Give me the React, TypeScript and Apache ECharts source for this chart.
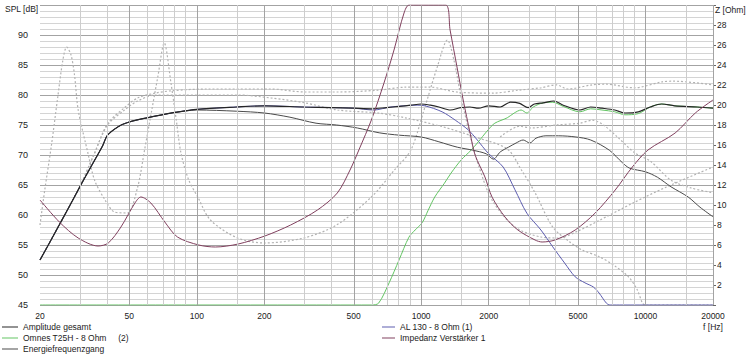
import React, { useEffect, useRef } from 'react';
import * as echarts from 'echarts';

const FONT = '"Liberation Sans", Arial, sans-serif';

// ---- axis ticks / grid frequencies (Hz) ----
const xLabelFreq = [20, 50, 100, 200, 500, 1000, 2000, 5000, 10000, 20000];
const xMajorGrid = [20, 50, 100, 200, 500, 1000, 2000, 5000, 10000, 20000];
const xMinorGrid = [30, 40, 60, 70, 80, 90, 150, 300, 400, 600, 700, 800, 900, 1500, 3000, 4000, 6000, 7000, 8000, 9000, 15000];

// ---- legend names ----
const NAME_AMP = 'Amplitude gesamt';
const NAME_OMNES = 'Omnes T25H - 8 Ohm     (2)';
const NAME_ENERGY = 'Energiefrequenzgang';
const NAME_AL = 'AL 130 - 8 Ohm (1)';
const NAME_IMP = 'Impedanz Verstärker 1';

// ---- Amplitude gesamt (dB) ----
const ampFreq = [20, 22, 25, 28, 30, 33, 35, 38, 40, 45, 50, 60, 70, 80, 100, 150, 200, 300, 400, 500, 600, 700, 800, 900, 1000, 1100, 1200, 1350, 1500, 1650, 1800, 2000, 2250, 2500, 2750, 3000, 3200, 3500, 3900, 4300, 5100, 5700, 6400, 7300, 8100, 9300, 10500, 11800, 13500, 17000, 20000];
const ampDb = [52.5, 55.3, 59.1, 62.5, 64.6, 67.4, 69.1, 71.5, 73.3, 74.8, 75.5, 76.2, 76.7, 77.1, 77.6, 78.0, 78.2, 78.0, 77.9, 77.8, 77.7, 77.9, 78.1, 78.3, 78.5, 78.3, 78.0, 77.5, 77.9, 78.0, 77.8, 78.2, 78.0, 78.8, 78.6, 77.9, 78.5, 78.7, 79.0, 78.3, 77.5, 78.0, 77.8, 77.5, 77.0, 77.2, 78.0, 78.5, 78.2, 78.0, 77.8];

// ---- Energiefrequenzgang (dB) ----
const energyFreq = [20, 22, 25, 28, 30, 33, 35, 38, 40, 45, 50, 60, 70, 80, 100, 150, 200, 260, 340, 420, 520, 650, 800, 1000, 1200, 1450, 1700, 1950, 2100, 2250, 2450, 2650, 2850, 3050, 3250, 3600, 4100, 4900, 5700, 6900, 7900, 8500, 10000, 11300, 13000, 15500, 17500, 20000];
const energyDb = [52.5, 55.3, 59.1, 62.5, 64.6, 67.4, 69.1, 71.5, 73.3, 74.8, 75.5, 76.2, 76.7, 77.1, 77.5, 77.3, 77.0, 76.3, 75.3, 75.0, 74.5, 73.7, 73.3, 73.0, 72.2, 71.3, 70.8, 70.2, 69.3, 70.5, 71.3, 72.0, 72.5, 72.0, 72.8, 73.2, 73.2, 73.0, 72.5, 70.8, 68.7, 67.8, 67.2, 66.3, 64.7, 63.0, 61.3, 59.7];

// ---- AL 130 - 8 Ohm (1) (dB) ----
const alFreq = [20, 22, 25, 28, 30, 33, 35, 38, 40, 45, 50, 60, 70, 80, 100, 150, 200, 300, 400, 500, 616, 730, 960, 1040, 1240, 1420, 1620, 1780, 1990, 2320, 2620, 2960, 3420, 3860, 4360, 4860, 5370, 5860, 6210, 6700, 6950, 20000];
const alDb = [52.5, 55.3, 59.1, 62.5, 64.6, 67.4, 69.1, 71.5, 73.3, 74.8, 75.5, 76.2, 76.7, 77.1, 77.6, 78.0, 78.2, 78.0, 77.9, 77.8, 77.5, 78.0, 78.3, 78.2, 77.2, 75.8, 74.2, 72.5, 70.3, 68.0, 64.2, 60.3, 57.5, 54.7, 52.0, 49.7, 48.7, 48.0, 47.0, 45.3, 45, 45];

// ---- Omnes T25H - 8 Ohm (2) (dB) ----
const omnesFreq = [20, 600, 646, 720, 797, 882, 940, 1010, 1075, 1150, 1270, 1360, 1510, 1670, 1780, 1990, 2130, 2420, 2600, 2790, 2960, 3160, 3500, 3860, 4300, 5100, 5700, 6400, 7300, 8100, 9300, 10500, 11800, 13500, 17000, 20000];
const omnesDb = [45, 45, 45.3, 48.7, 52.5, 56.3, 57.5, 58.7, 60.8, 63.0, 65.3, 67.0, 69.2, 70.8, 72.0, 74.2, 75.3, 76.2, 77.0, 77.5, 77.0, 78.0, 78.7, 78.8, 78.1, 77.2, 77.7, 77.5, 77.2, 76.7, 76.9, 78.0, 78.5, 78.2, 78.0, 77.8];

// ---- Impedanz Verstärker 1 (Ohm) ----
const impFreq = [20, 24.4, 29.6, 36.3, 40.3, 45.9, 53, 56.3, 62.4, 72, 82, 102, 121, 153, 201, 262, 345, 423, 482, 530, 600, 683, 757, 839, 885, 1285, 1346, 1445, 1540, 1653, 1740, 1925, 2070, 2365, 2700, 3220, 3460, 3950, 4860, 5970, 7330, 8740, 10260, 13560, 16680, 20000];
const impOhm = [10.5, 8.3, 6.7, 5.9, 6.2, 7.8, 10.2, 10.8, 10.2, 8.3, 6.8, 6.0, 5.8, 6.1, 6.9, 8.0, 9.5, 11.2, 13.5, 15.6, 18.5, 22.2, 25.5, 29.2, 30, 30, 27.5, 23.8, 20.5, 17.2, 15.0, 12.8, 10.8, 8.8, 7.5, 6.5, 6.3, 6.5, 7.5, 9.2, 11.5, 13.8, 15.5, 17.2, 19.2, 20.5];

// ---- dotted reference curves ----
const refZFreq = [20, 21, 22.5, 24, 25.3, 26.3, 27.5, 28.5, 29.6, 32.7, 35, 39, 43, 49, 54.5, 58.5, 63, 67, 71.6, 76.7, 81, 85, 92, 101, 115, 152, 200, 300, 420, 600, 760, 900, 1030, 1180, 1310, 1400, 1500, 1650, 1800, 2070, 2620, 3420, 4100, 5000, 6275, 8800, 12400, 20000];
const refZOhm = [8, 11.5, 16, 20.8, 24.5, 25.8, 25, 23, 19.5, 15.2, 12.5, 10.5, 9.3, 9.2, 11.8, 15.5, 19.5, 22.8, 26.2, 22.2, 18.5, 15.2, 12.5, 10.8, 8.5, 6.7, 6.2, 6.7, 8.0, 10.8, 13.5, 15.5, 19.5, 23.8, 26.5, 24.5, 21, 17, 14, 10.5, 7.8, 6.8, 6.7, 7.4, 8.5, 10.2, 11.8, 13.8];

const refAFreq = [20, 25, 30, 35, 40, 48, 54.5, 65, 77, 110, 214, 303, 424, 642, 850, 1100, 1440, 2080, 2710, 3420, 4000, 4500, 5800, 6700, 8900, 11900, 13400, 20000];
const refADb = [52.5, 59.1, 64.6, 70.3, 75.2, 78.0, 79.5, 80.3, 80.7, 81.0, 81.0, 80.5, 80.5, 80.8, 81.3, 81.3, 80.5, 80.3, 80.8, 81.2, 81.7, 81.0, 81.7, 81.8, 81.2, 82.2, 82.3, 81.7];

const refBFreq = [20, 25, 30, 35, 40, 48, 54.5, 65, 101, 153, 214, 303, 424, 642, 850, 1250, 1740, 2420, 2800, 3220, 3860, 4600, 5200, 6270, 7300, 8400, 9200, 9700, 10000, 20000];
const refBDb = [52.5, 59.1, 64.6, 70.3, 75.0, 77.6, 79.0, 80.0, 80.0, 80.0, 79.5, 78.7, 77.5, 77.0, 76.2, 74.7, 73.0, 71.0, 67.5, 63.7, 58.0, 55.5, 54.2, 53.0, 51.5, 49.7, 47.5, 45.3, 45, 45];

const refCFreq = [2250, 2750, 3100, 4000, 5100, 5800, 6500, 7500, 9000, 10500, 13000, 16000, 20000];
const refCDb = [73.0, 74.8, 74.5, 75.0, 75.3, 75.8, 75.0, 73.0, 70.3, 69.0, 65.8, 64.5, 63.7];

const pairs = (f: number[], v: number[]) => f.map((x, i) => [Math.log10(x), v[i]]);

const solid = (name: string, data: number[][], color: string, width: number, yAxisIndex = 0) => ({
  type: 'line',
  name,
  data: data,
  yAxisIndex,
  symbol: 'none',
  showSymbol: false,
  smooth: 0.3,
  silent: true,
  z: 4,
  lineStyle: { color, width },
  itemStyle: { color },
});

const dotted = (data: number[][], yAxisIndex = 0) => ({
  type: 'line',
  data,
  yAxisIndex,
  symbol: 'none',
  showSymbol: false,
  smooth: 0.3,
  silent: true,
  z: 3,
  lineStyle: { color: '#b2b2b2', width: 1.2, type: [2, 2] },
  itemStyle: { color: '#b2b2b2' },
});

const gridSeries = (freqs: number[], color: string) => ({
  type: 'line',
  data: [],
  silent: true,
  z: 1,
  markLine: {
    silent: true,
    symbol: 'none',
    animation: false,
    label: { show: false },
    lineStyle: { color, width: 1, type: 'solid' },
    emphasis: { disabled: true },
    data: freqs.map((f) => ({ xAxis: Math.log10(f) })),
  },
});

const legendText = { fontSize: 8.5, color: '#222', fontFamily: FONT, lineHeight: 10 };

export default function App() {
  const ref = useRef<HTMLDivElement>(null);
  useEffect(() => {
    document.body.style.margin = '0';
    const chart = echarts.init(ref.current!, null, { renderer: 'svg' });
    chart.setOption({
      animation: false,
      backgroundColor: '#ffffff',
      textStyle: { fontFamily: FONT },
      grid: { left: 40, right: 37, top: 5, bottom: 51, show: false },
      xAxis: {
        type: 'value',
        min: Math.log10(20),
        max: Math.log10(20000),
        axisLine: { show: false },
        axisTick: { show: false },
        splitLine: { show: false },
        axisLabel: {
          customValues: xLabelFreq.map((f) => Math.log10(f)),
          formatter: (v: number) => {
            const f = Math.round(Math.pow(10, v));
            return f === 20000 ? '20000\nf [Hz]' : String(f);
          },
          fontSize: 8.5,
          color: '#222',
          margin: 5,
          lineHeight: 11,
          fontFamily: FONT,
        },
      },
      yAxis: [
        {
          type: 'value',
          min: 45,
          max: 95,
          interval: 5,
          position: 'left',
          axisLine: { show: false },
          axisTick: { show: false },
          axisLabel: {
            formatter: (v: number) => (v === 95 ? '' : String(v)),
            fontSize: 9,
            color: '#222',
            margin: 12,
            fontFamily: FONT,
          },
          splitLine: { show: true, lineStyle: { color: '#a3a3a3', width: 1 } },
          minorTick: { show: false, splitNumber: 5 },
          minorSplitLine: { show: true, lineStyle: { color: '#d4d4d4', width: 1 } },
        },
        {
          type: 'value',
          min: 0,
          max: 30,
          interval: 2,
          position: 'right',
          axisLine: { show: false },
          axisTick: { show: true, length: 3, lineStyle: { color: '#666' } },
          axisLabel: {
            formatter: (v: number) => (v === 0 || v === 30 ? '' : String(v)),
            fontSize: 8.5,
            color: '#222',
            margin: 4,
            fontFamily: FONT,
          },
          splitLine: { show: false },
        },
      ],
      legend: [
        {
          data: [NAME_AMP, NAME_OMNES, NAME_ENERGY],
          left: 2,
          top: 322,
          orient: 'vertical',
          icon: 'rect',
          itemWidth: 16,
          itemHeight: 1,
          itemGap: 1,
          padding: 0,
          selectedMode: false,
          textStyle: legendText,
        },
        {
          data: [NAME_AL, NAME_IMP],
          left: 382,
          top: 322,
          orient: 'vertical',
          icon: 'rect',
          itemWidth: 13,
          itemHeight: 1,
          itemGap: 1,
          padding: 0,
          selectedMode: false,
          textStyle: legendText,
        },
      ],
      graphic: [
        { type: 'text', left: 5, top: 4, style: { text: 'SPL [dB]', fontSize: 8.5, fill: '#222', fontFamily: FONT } },
        { type: 'text', left: 715, top: 5, style: { text: 'Z [Ohm]', fontSize: 8.5, fill: '#222', fontFamily: FONT } },
      ],
      series: [
        gridSeries(xMinorGrid, '#cdcdcd'),
        gridSeries(xMajorGrid, '#a3a3a3'),
        dotted(pairs(refZFreq, refZOhm), 1),
        dotted(pairs(refAFreq, refADb)),
        dotted(pairs(refBFreq, refBDb)),
        dotted(pairs(refCFreq, refCDb)),
        solid(NAME_AL, pairs(alFreq, alDb), '#5c5cae', 1),
        solid(NAME_OMNES, pairs(omnesFreq, omnesDb), '#62c462', 1),
        solid(NAME_ENERGY, pairs(energyFreq, energyDb), '#4a4a4a', 1),
        solid(NAME_AMP, pairs(ampFreq, ampDb), '#262626', 1.2),
        solid(NAME_IMP, pairs(impFreq, impOhm), '#80405e', 1, 1),
      ],
    });
    return () => chart.dispose();
  }, []);
  return (
    <div
      ref={ref}
      style={{ width: 750, height: 356, position: 'absolute', left: 0, top: 0, background: '#fff' }}
    />
  );
}
